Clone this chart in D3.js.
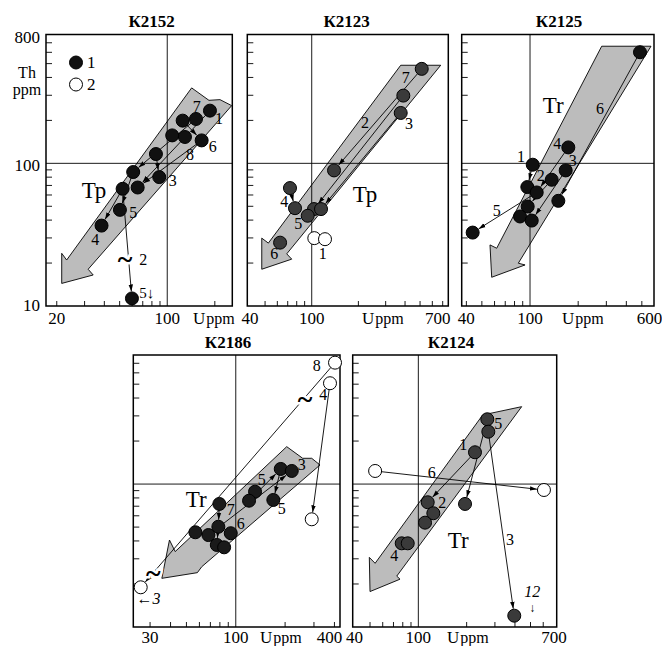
<!DOCTYPE html>
<html><head><meta charset="utf-8">
<script src="https://cdn.jsdelivr.net/npm/d3@7"></script>
<style>
body{margin:0;background:#fff}
svg{display:block}
text{font-family:"Liberation Serif","Times New Roman",serif;fill:#000}
</style></head><body>
<svg id="c" width="662" height="646"></svg>
<script>
// ---------------- K2152 ----------------
const k2152U    = [186.3,152.0,125.2,107.5,129.4,165.1,84.8,60.9,89.0,52.2,65.0,50.2,38.4,59.8];
const k2152Th   = [234.1,204.6,199.2,157.0,153.0,144.8,116.2,86.9,80.1,66.3,67.7,47.2,36.6,11.3];
const k2152Open = [0,0,0,0,0,0,0,0,0,0,0,0,0,0];
const k2152Links = [[0,10],[1,7],[2,5],[5,10],[6,8],[9,12],[7,11],[9,13]];
const k2152BandU  = [142.7,183.6,215.6,255.6,31.6,34.0,21.5,21.5,23.1];
const k2152BandTh = [338,276.5,279.6,253.8,18.1,16.5,14.4,23.4,21.0];
const k2152Text   = ["7","1","6","8","3","Тр","5","4","~","2","5↓"];
const k2152TextU  = [153.5,212.3,193.8,139.2,108.2,34.4,60.9,35.0,54.0,70.5,74.1];
const k2152TextTh = [248.6,204.6,131.4,114.9,75.5,64.5,45.2,29.4,21.6,21.3,12.4];

// ---------------- K2123 ----------------
const k2123U    = [512.6,389.9,375.1,139.3,72.4,78.0,103.5,114.8,94.2,62.5,103.9,121.8];
const k2123Th   = [459.4,298.4,225.5,89.2,67.1,48.5,47.8,47.8,42.9,27.8,29.9,29.4];
const k2123Open = [0,0,0,0,0,0,0,0,0,0,1,1];
const k2123Links = [[0,3],[1,6],[2,7],[4,5]];
const k2123BandU  = [375.1,679.6,69.0,74.3,47.6,47.6,52.5];
const k2123BandTh = [486.9,486.9,23.2,21.3,18.1,29.9,27.6];
const k2123Text   = ["7","2","3","Тр","4","5","6","1"];
const k2123TextU  = [404.2,220.8,424.4,220.8,66.5,81.9,57.4,117.8];
const k2123TextTh = [397.2,191.9,189.7,60.2,54.0,37.6,23.2,23.4];

// ---------------- K2125 ----------------
const k2125U    = [486.9,173.5,104.0,167.1,136.6,96.2,110.1,96.7,150.3,86.6,102.5,43.8];
const k2125Th   = [600.9,129.3,97.8,89.2,76.7,68.2,62.5,49.8,54.6,42.4,39.7,32.7];
const k2125Open = [0,0,0,0,0,0,0,0,0,0,0,0];
const k2125Links = [[0,8],[2,5],[1,6],[3,10],[4,7],[6,11]];
const k2125BandU  = [280.6,570.6,84.5,93.1,57.6,56.2,61.9];
const k2125BandTh = [662.1,662.1,19.95,19.4,15.9,26.8,25.4];
const k2125Text   = ["Tr","6","4","3","1","2","5"];
const k2125TextU  = [139.8,273.8,148.1,184.9,87.9,116.7,61.9];
const k2125TextTh = [253.8,240.6,137.3,104.3,111.8,82.2,46.7];

// ---------------- K2186 ----------------
const k2186U    = [188.1,219.6,131.1,120.5,169.5,79.4,56.7,68.1,78.3,93.2,76.6,84.9,403.3,375.8,290.7,26.3];
const k2186Th   = [127.6,123.5,88.5,76.5,77.4,72.6,46.0,44.0,50.3,45.3,37.5,36.1,707.2,507.6,56.7,18.96];
const k2186Open = [0,0,0,0,0,0,0,0,0,0,0,0,1,1,1,1];
const k2186Links = [[12,15],[13,14],[5,8],[3,0],[0,4],[7,1],[8,10]];
const k2186BandU  = [204.6,256.1,290.7,326.6,62.0,58.3,35.4,39.4,42.7];
const k2186BandTh = [182.7,151.5,151.5,136.0,26.4,24.0,21.9,40.6,33.7];
const k2186Text   = ["8","4","~","3","5","Tr","5","7","6","~","←3"];
const k2186TextU  = [311.8,342.1,264.7,252.6,144.0,57.3,190.8,93.2,107.3,31.4,29.3];
const k2186TextTh = [670.6,420.3,398.5,136.0,106.8,78.3,67.0,65.9,53.2,24.0,15.9];

// ---------------- K2124 ----------------
const k2124U    = [269.0,272.9,225.4,114.4,195.4,124.0,110.1,78.8,85.9,396.0,53.8,606.3];
const k2124Th   = [284.1,232.6,166.9,74.6,72.6,62.5,53.7,38.5,38.5,12.0,123.5,90.9];
const k2124Open = [0,0,0,0,0,0,0,0,0,0,1,1];
const k2124Links = [[10,11],[2,3],[0,4],[1,9]];
const k2124BandU  = [251.8,440.4,73.4,76.9,50.0,49.5,53.8];
const k2124BandTh = [304.5,348.0,22.7,21.6,17.7,30.7,27.9];
const k2124Text   = ["5","1","6","2","Tr","3","4","12","↓"];
const k2124TextU  = [314.8,190.7,121.2,141.1,177.5,372.4,70.9,512.7,512.7];
const k2124TextTh = [266.4,187.7,120.2,74.6,40.6,41.1,31.4,17.6,13.6];

const thDomain = [10, 800];
const legendLabels = ["1","2"];

const panels = [
 {title:"К2152", x0:46, x1:232.3, y0:34.5, y1:306, dom:[17.1,258], tx:151.7, ty:21, U:k2152U, Th:k2152Th, open:k2152Open, links:k2152Links, bU:k2152BandU, bTh:k2152BandTh, t:k2152Text, tU:k2152TextU, tTh:k2152TextTh, fill:"#111", xl:[[20,0],[100,0]], ux:193, yAxis:true},
 {title:"К2123", x0:247.3, x1:448.3, y0:34.5, y1:306, dom:[38.4,760.7], tx:346.7, ty:21, U:k2123U, Th:k2123Th, open:k2123Open, links:k2123Links, bU:k2123BandU, bTh:k2123BandTh, t:k2123Text, tU:k2123TextU, tTh:k2123TextTh, fill:"#3a3a3a", xl:[[40,0],[100,0],[700,-5]], ux:362},
 {title:"К2125", x0:461.7, x1:654, y0:34.5, y1:306, dom:[37.4,595.7], tx:559, ty:21, U:k2125U, Th:k2125Th, open:k2125Open, links:k2125Links, bU:k2125BandU, bTh:k2125BandTh, t:k2125Text, tU:k2125TextU, tTh:k2125TextTh, fill:"#111", xl:[[40,0],[100,0],[600,-5]], ux:562},
 {title:"К2186", x0:133.3, x1:340, y0:355, y1:627, dom:[23.7,432.5], tx:228, ty:342.5, U:k2186U, Th:k2186Th, open:k2186Open, links:k2186Links, bU:k2186BandU, bTh:k2186BandTh, t:k2186Text, tU:k2186TextU, tTh:k2186TextTh, fill:"#1a1a1a", xl:[[30,0],[100,0],[400,-5]], ux:260},
 {title:"К2124", x0:352.7, x1:556.7, y0:355, y1:627, dom:[39,728], tx:451, ty:342.5, U:k2124U, Th:k2124Th, open:k2124Open, links:k2124Links, bU:k2124BandU, bTh:k2124BandTh, t:k2124Text, tU:k2124TextU, tTh:k2124TextTh, fill:"#3a3a3a", xl:[[40,0],[100,0],[700,0]], ux:447}
];

const svg = d3.select("#c");
svg.append("rect").attr("width",662).attr("height",646).attr("fill","#fff");
const defs = svg.append("defs");
defs.append("marker").attr("id","ah").attr("viewBox","0 -4 10 8").attr("refX",10).attr("refY",0)
  .attr("markerWidth",7).attr("markerHeight",6).attr("markerUnits","userSpaceOnUse").attr("orient","auto")
  .append("path").attr("d","M0,-3.2L10,0L0,3.2Z").attr("fill","#000");

const R = 6.5;

panels.forEach(p => {
  const x = d3.scaleLog().domain(p.dom).range([p.x0, p.x1]);
  const y = d3.scaleLog().domain(thDomain).range([p.y1, p.y0]);
  const g = svg.append("g");

  // band arrow
  const bandPts = p.bU.map((u,i) => [x(u), y(p.bTh[i])]);
  g.append("path").attr("d", d3.line()(bandPts) + "Z")
    .attr("fill","#bcbcbc").attr("stroke","#000").attr("stroke-width",0.9).attr("stroke-linejoin","miter");

  // reference lines at 100
  g.append("line").attr("x1",x(100)).attr("x2",x(100)).attr("y1",p.y0).attr("y2",p.y1).attr("stroke","#000").attr("stroke-width",0.9);
  g.append("line").attr("x1",p.x0).attr("x2",p.x1).attr("y1",y(100)).attr("y2",y(100)).attr("stroke","#000").attr("stroke-width",0.9);

  // ticks
  x.ticks().filter(v => v !== 100 && x(v) > p.x0 + 3 && x(v) < p.x1 - 3).forEach(v => {
    g.append("line").attr("x1",x(v)).attr("x2",x(v)).attr("y1",p.y1).attr("y2",p.y1-5).attr("stroke","#000").attr("stroke-width",0.9);
  });
  y.ticks().filter(v => v !== 100 && v !== 10 && v !== 800).forEach(v => {
    g.append("line").attr("x1",p.x0).attr("x2",p.x0+6).attr("y1",y(v)).attr("y2",y(v)).attr("stroke","#000").attr("stroke-width",0.9);
  });

  // frame
  g.append("rect").attr("x",p.x0).attr("y",p.y0).attr("width",p.x1-p.x0).attr("height",p.y1-p.y0)
    .attr("fill","none").attr("stroke","#000").attr("stroke-width",1.5);

  // links
  p.links.forEach(([a,b]) => {
    const x1 = x(p.U[a]), y1 = y(p.Th[a]), x2 = x(p.U[b]), y2 = y(p.Th[b]);
    const dx = x2-x1, dy = y2-y1, L = Math.hypot(dx,dy);
    const ux = dx/L, uy = dy/L;
    g.append("line").attr("x1",x1+ux*R*0.6).attr("y1",y1+uy*R*0.6)
      .attr("x2",x2-ux*(R+0.5)).attr("y2",y2-uy*(R+0.5))
      .attr("stroke","#000").attr("stroke-width",0.9).attr("marker-end","url(#ah)");
  });

  // points
  p.U.forEach((u,i) => {
    g.append("circle").attr("cx",x(u)).attr("cy",y(p.Th[i])).attr("r",R)
      .attr("fill", p.open[i] ? "#fff" : p.fill).attr("stroke","#000").attr("stroke-width",1);
  });

  // annotations
  p.t.forEach((s,i) => {
    const big = (s === "Тр" || s === "Tr");
    const tilde = s === "~";
    const ital = (s === "←3" || s === "12");
    const arrowOnly = s === "↓";
    const t = g.append("text").attr("x",x(p.tU[i])).attr("y",y(p.tTh[i]))
      .attr("text-anchor","middle").attr("dominant-baseline","central")
      .attr("font-size", big ? 23 : tilde ? 28 : arrowOnly ? 12 : (s.length>1 && !ital ? 15 : 16))
      .attr("font-weight", tilde ? "bold" : "normal")
      .attr("font-style", ital ? "italic" : "normal")
      .text(s);
    if (tilde) t.attr("stroke","#fff").attr("stroke-width",5).attr("paint-order","stroke");
  });

  // title
  g.append("text").attr("x",p.tx).attr("y",p.ty).attr("text-anchor","middle").attr("dominant-baseline","central")
    .attr("font-size",17).attr("font-weight","bold").text(p.title);

  // x tick labels
  const by = p.y1 + (p.y1 > 600 ? 16 : 17.5);
  p.xl.forEach(([v,dx]) => {
    g.append("text").attr("x",x(v)+dx).attr("y",by).attr("text-anchor","middle").attr("font-size",17).text(v);
  });
  const ul = g.append("text").attr("x",p.ux).attr("y",by).attr("font-size",17);
  ul.append("tspan").text("U");
  ul.append("tspan").attr("dx",1).attr("font-size",16).text("ppm");

  // y axis labels
  if (p.yAxis) {
    [800,100,10].forEach(v => {
      g.append("text").attr("x",p.x0-6).attr("y",y(v)+ (v===800?3:(v===10?-1:2))).attr("text-anchor","end")
        .attr("dominant-baseline","central").attr("font-size",17).text(v);
    });
    g.append("text").attr("x",27).attr("y",72).attr("text-anchor","middle").attr("dominant-baseline","central").attr("font-size",16).text("Th");
    g.append("text").attr("x",27).attr("y",89).attr("text-anchor","middle").attr("dominant-baseline","central").attr("font-size",16).text("ppm");
    // legend
    const lx = p.x0 + 30, ly1 = p.y0 + 28, ly2 = p.y0 + 50;
    g.append("circle").attr("cx",lx).attr("cy",ly1).attr("r",R).attr("fill","#111").attr("stroke","#000");
    g.append("circle").attr("cx",lx).attr("cy",ly2).attr("r",R).attr("fill","#fff").attr("stroke","#000");
    g.append("text").attr("x",lx+11).attr("y",ly1).attr("dominant-baseline","central").attr("font-size",17).text(legendLabels[0]);
    g.append("text").attr("x",lx+11).attr("y",ly2).attr("dominant-baseline","central").attr("font-size",17).text(legendLabels[1]);
  }
});
</script>
</body></html>
